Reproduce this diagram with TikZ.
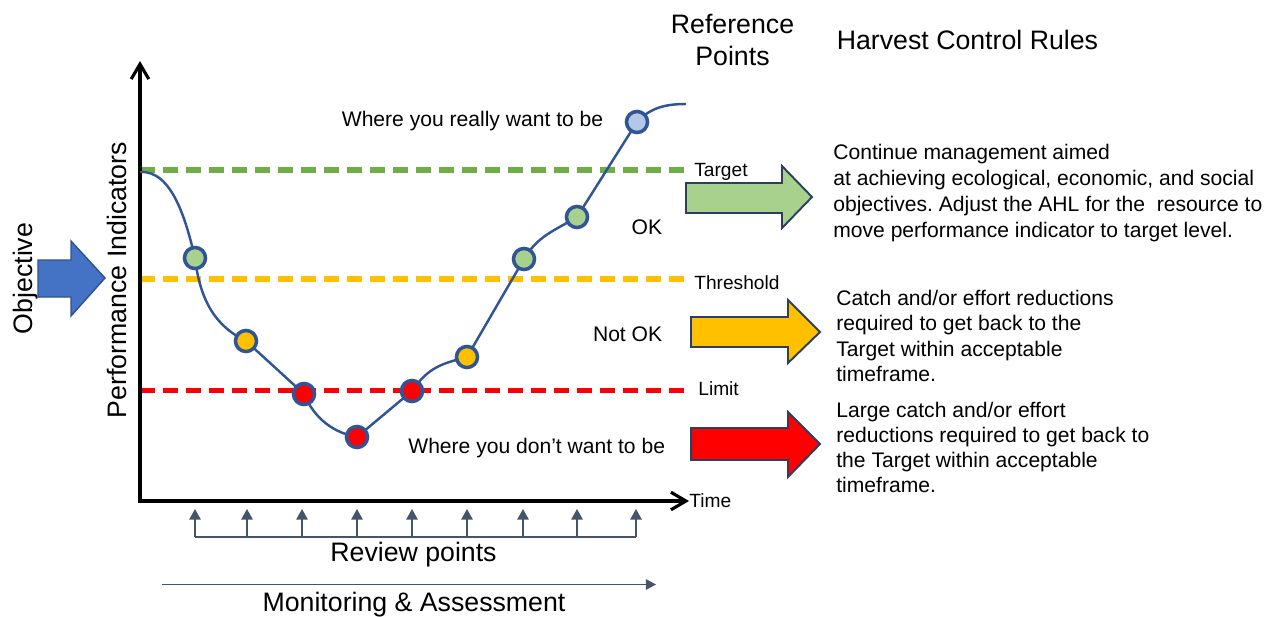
\documentclass[tikz,border=0pt]{standalone}
\usepackage{fontspec}
\setmainfont{Liberation Sans}
\usetikzlibrary{arrows.meta}
\definecolor{curveblue}{RGB}{47,85,151}
\definecolor{dotgreen}{RGB}{169,209,142}
\definecolor{dotyellow}{RGB}{255,192,0}
\definecolor{dotred}{RGB}{255,0,0}
\definecolor{dotblue}{RGB}{180,199,231}
\definecolor{linegreen}{RGB}{112,173,71}
\definecolor{arrowedge}{RGB}{44,62,100}
\definecolor{objfill}{RGB}{68,114,196}
\definecolor{objedge}{RGB}{47,82,143}
\definecolor{revgray}{RGB}{68,84,106}
\newcommand\fbig{\fontsize{15.2}{18.2}\selectfont}
\newcommand\fmid{\fontsize{12.0}{14.8}\selectfont}
\newcommand\fsml{\fontsize{10.9}{13}\selectfont}
\frenchspacing
\begin{document}
\begin{tikzpicture}[x=0.02cm,y=-0.02cm,
  txt/.style={inner sep=0pt, font=\fmid, anchor=base west},
  txtbig/.style={inner sep=0pt, font=\fbig},
  reflbl/.style={inner sep=0pt, font=\fsml, anchor=base west},
  refline/.style={line width=3pt, dash pattern=on 8.5pt off 4.6pt},
  axis/.style={line width=1.8pt, line join=miter, {Straight Barb[length=8.5pt,width=10pt]}-{Straight Barb[length=8.5pt,width=10pt]}},
  pcurve/.style={draw=curveblue, line width=1.4pt},
  dot/.style={circle, draw=curveblue, line width=2pt, minimum size=12pt, inner sep=0pt},
  blockarr/.style={draw=arrowedge, line width=1.1pt, line join=miter},
  revarrow/.style={draw=revgray, line width=0.85pt, -{Triangle[length=6pt,width=6.5pt]}},
  revline/.style={draw=revgray, line width=0.85pt}]
\useasboundingbox (0,0) rectangle (1283,616);

% reference lines
\draw[refline, linegreen] (140,170) -- (692,170);
\draw[refline, dotyellow] (140,279) -- (692,279);
\draw[refline, dotred] (140,390.5) -- (692,390.5);

% axes
\coordinate (ytip) at (140,61);
\coordinate (xtip) at (689,501);
\draw[axis] (ytip) |- (xtip);

% curve
\coordinate (p0) at (140,172);
\coordinate (p1) at (195,258);
\coordinate (p2) at (246,341);
\coordinate (p3) at (304,394);
\coordinate (p4) at (357,437);
\coordinate (p5) at (412,391);
\coordinate (p6) at (467,357);
\coordinate (p7) at (524,259);
\coordinate (p8) at (577,217);
\coordinate (p9) at (637,122);
\coordinate (pe) at (686,104);
\draw[pcurve] (p0) .. controls (172,170) and (186,220) .. (p1)
  .. controls (200,300) and (215,326) .. (p2)
  -- (p3)
  .. controls (315,420) and (335,433) .. (p4)
  -- (p5)
  .. controls (428,368) and (440,364) .. (p6)
  -- (p7)
  .. controls (538,236) and (552,232) .. (p8)
  -- (p9)
  .. controls (650,108) and (665,104) .. (pe);
\node[dot, fill=dotgreen] (c1) at (p1) {};
\node[dot, fill=dotyellow] (c2) at (p2) {};
\node[dot, fill=dotred] (c3) at (p3) {};
\node[dot, fill=dotred] (c4) at (p4) {};
\node[dot, fill=dotred] (c5) at (p5) {};
\node[dot, fill=dotyellow] (c6) at (p6) {};
\node[dot, fill=dotgreen] (c7) at (p7) {};
\node[dot, fill=dotgreen] (c8) at (p8) {};
\node[dot, fill=dotblue] (c9) at (p9) {};

% axis labels
\node[txtbig, rotate=90, anchor=base] (pi) at (126,280) {Performance Indicators};
\node[txtbig, rotate=90, anchor=base] (obj) at (32,278.5) {Objective};
\node[reflbl] (time) at (689,507) {Time};

% objective arrow
\draw[blockarr, draw=objedge, line width=0.8pt, fill=objfill] (38,260) -- (71,260) -- (71,241) -- (105,278) -- (71,316) -- (71,297) -- (38,297) -- cycle;

% reference labels
\node[reflbl] (target) at (694,176) {Target};
\node[reflbl] (thresh) at (694,289) {Threshold};
\node[reflbl] (limit) at (698,395) {Limit};

% zone labels
\node[txt] (really) at (341.5,126) {Where you really want to be};
\node[txt, anchor=base east] (ok) at (662.5,234) {OK};
\node[txt, anchor=base east] (notok) at (662.5,341) {Not OK};
\node[txt] (dont) at (408,453) {Where you don’t want to be};

% titles
\node[txtbig, anchor=base] (ref1) at (732.5,33) {Reference};
\node[txtbig, anchor=base] (ref2) at (732.5,65) {Points};
\node[txtbig, anchor=base west] (hcr) at (836.5,49) {Harvest Control Rules};

% block arrows
\draw[blockarr, fill=dotgreen] (686,183) -- (782,183) -- (782,166) -- (812,197) -- (782,228) -- (782,213) -- (686,213) -- cycle;
\draw[blockarr, fill=dotyellow] (691,317) -- (788,317) -- (788,300) -- (820,332) -- (788,363) -- (788,347) -- (691,347) -- cycle;
\draw[blockarr, fill=dotred] (691,428) -- (788,428) -- (788,412) -- (820,444) -- (788,477) -- (788,460) -- (691,460) -- cycle;

% rule texts
\node[txt] (g1) at (833,159) {Continue management aimed};
\node[txt] (g2) at (833,185) {at achieving ecological, economic, and social};
\node[txt] (g3) at (833,211) {objectives. Adjust the AHL for the\ \ resource to};
\node[txt] (g4) at (833,237) {move performance indicator to target level.};
\node[txt] (y1) at (836,305) {Catch and/or effort reductions};
\node[txt] (y2) at (836,330) {required to get back to the};
\node[txt] (y3) at (836,356) {Target within acceptable};
\node[txt] (y4) at (836,381) {timeframe.};
\node[txt] (r1) at (836,417) {Large catch and/or effort};
\node[txt] (r2) at (836,442) {reductions required to get back to};
\node[txt] (r3) at (836,467) {the Target within acceptable};
\node[txt] (r4) at (836,492) {timeframe.};

% review points
\foreach \i/\xx in {1/195,2/247,3/302,4/357,5/412,6/467,7/523,8/577,9/636} {
  \coordinate (rb\i) at (\xx,537);
  \coordinate (rt\i) at (\xx,509);
  \draw[revarrow] (rb\i) -- (rt\i);
}
\draw[revline] (rb1) -- (rb9);
\node[txtbig, anchor=base] (review) at (413.5,561) {Review points};

% monitoring
\coordinate (ms) at (161.5,584.5);
\coordinate (me) at (656,584.5);
\draw[revarrow, -{Triangle[length=5.7pt,width=5.9pt]}] (ms) -- (me);
\node[txtbig, anchor=base] (monitor) at (414,611) {Monitoring \& Assessment};
\end{tikzpicture}
\end{document}
